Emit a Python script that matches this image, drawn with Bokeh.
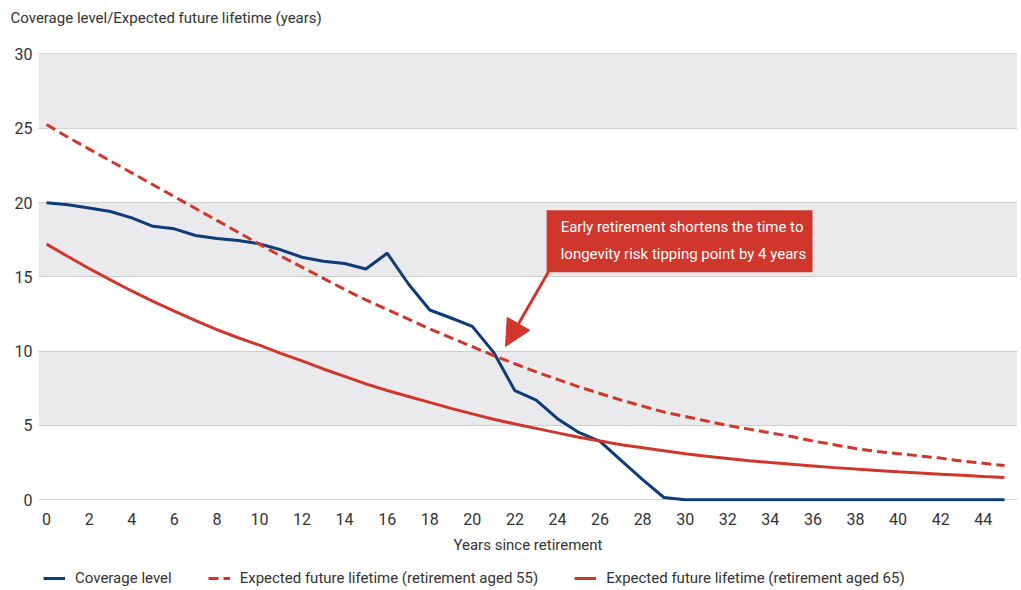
from bokeh.plotting import figure
from bokeh.layouts import column
from bokeh.models import Range1d, BoxAnnotation, Label, Arrow, NormalHead, Legend, LegendItem, FixedTicker, Title
from bokeh.embed import file_html
from bokeh.resources import INLINE

# ---------------- data ----------------
years = list(range(46))
coverage = [19.98, 19.85, 19.64, 19.4, 18.97, 18.4, 18.23, 17.78, 17.58, 17.44,
            17.22, 16.82, 16.32, 16.05, 15.9, 15.53, 16.59, 14.52, 12.77, 12.23,
            11.67, 9.92, 7.34, 6.71, 5.45, 4.53, 3.93, 2.63, 1.35, 0.15,
            0, 0, 0, 0, 0, 0, 0, 0, 0, 0, 0, 0, 0, 0, 0, 0]
life_55 = [25.25, 24.4, 23.6, 22.8, 22.0, 21.2, 20.4, 19.6, 18.8, 18.0,
           17.2, 16.4, 15.65, 14.9, 14.15, 13.45, 12.8, 12.15, 11.5, 10.9,
           10.3, 9.7, 9.15, 8.6, 8.1, 7.6, 7.15, 6.7, 6.3, 5.9,
           5.6, 5.3, 5.0, 4.75, 4.5, 4.25, 3.95, 3.7, 3.45, 3.25,
           3.1, 2.95, 2.8, 2.6, 2.45, 2.3]
life_65 = [17.2, 16.37, 15.56, 14.8, 14.05, 13.35, 12.7, 12.05, 11.45, 10.9,
           10.4, 9.85, 9.35, 8.8, 8.3, 7.8, 7.35, 6.95, 6.55, 6.15,
           5.78, 5.42, 5.1, 4.8, 4.5, 4.2, 3.95, 3.7, 3.5, 3.3,
           3.1, 2.93, 2.78, 2.63, 2.5, 2.38, 2.27, 2.16, 2.06, 1.97,
           1.88, 1.8, 1.72, 1.64, 1.56, 1.49]
x_ticks = list(range(0, 45, 2))
y_ticks = [0, 5, 10, 15, 20, 25, 30]
shaded_bands = [(5, 10), (15, 20), (25, 30)]

series_names = ["Coverage level",
                "Expected future lifetime (retirement aged 55)",
                "Expected future lifetime (retirement aged 65)"]
title_text = "Coverage level/Expected future lifetime (years)"
x_title = "Years since retirement"
note_text = "Early retirement shortens the time to\nlongevity risk tipping point by 4 years"

# ---------------- style ----------------
FONT = "Roboto"
TXT = "#333333"
NAVY = "#0E3B7A"
RED = "#D0372C"
BAND = "#EAEAEC"
W = 1017


def blank_fig(h, **kw):
    f = figure(width=W, height=h, x_range=Range1d(0, 979), y_range=Range1d(100, 100 + h),
               x_axis_location=None, y_axis_location=None, toolbar_location=None,
               output_backend="svg", min_border_left=38, min_border_right=0,
               min_border_bottom=0, **kw)
    f.outline_line_color = None
    f.grid.visible = False
    return f


# ---- title strip ----
top = blank_fig(30, min_border_top=26)
top.title.text = title_text
top.title.text_font = FONT
top.title.text_font_size = "15px"
top.title.text_font_style = "normal"
top.title.text_color = TXT
top.title.offset = -28
top.title.standoff = 0

# ---- main chart ----
p = figure(frame_width=979, frame_height=449, output_backend="svg", toolbar_location=None,
           x_range=Range1d(-0.38, 45.61), y_range=Range1d(-0.12, 30.1),
           min_border_left=38, min_border_right=0, min_border_top=22, min_border_bottom=56)
p.outline_line_color = None
p.background_fill_color = "white"

for lo, hi in shaded_bands:
    p.add_layout(BoxAnnotation(bottom=lo, top=hi, fill_color=BAND, fill_alpha=1.0,
                               line_color=None, level="image"))

p.xgrid.visible = False
p.ygrid.ticker = FixedTicker(ticks=y_ticks)
p.ygrid.grid_line_color = "#A8A8A8"
p.ygrid.grid_line_dash = "1 1"
p.ygrid.grid_line_width = 1

p.xaxis.ticker = FixedTicker(ticks=x_ticks)
p.yaxis.ticker = FixedTicker(ticks=y_ticks)
for ax in (p.xaxis[0], p.yaxis[0]):
    ax.axis_line_color = None
    ax.major_tick_line_color = None
    ax.minor_tick_line_color = None
    ax.major_tick_out = 0
    ax.major_tick_in = 0
    ax.major_label_text_font = FONT
    ax.major_label_text_font_size = "16px"
    ax.major_label_text_color = TXT
p.xaxis.major_label_standoff = 11
p.yaxis.major_label_standoff = 6
p.xaxis.axis_label = x_title
p.xaxis.axis_label_text_font = FONT
p.xaxis.axis_label_text_font_size = "15px"
p.xaxis.axis_label_text_font_style = "normal"
p.xaxis.axis_label_text_color = TXT
p.xaxis.axis_label_standoff = 8

p.line(years, coverage, line_color=NAVY, line_width=3)
p.line(years, life_55, line_color=RED, line_width=3, line_dash="10 5")
p.line(years, life_65, line_color=RED, line_width=3)

p.add_layout(Arrow(end=NormalHead(size=26, fill_color=RED, line_color=RED),
                   x_start=23.58, y_start=15.35, x_end=21.56, y_end=10.32,
                   line_color=RED, line_width=3))
p.add_layout(BoxAnnotation(left=23.49, right=35.98, bottom=15.31, top=19.49,
                           fill_color=RED, fill_alpha=1.0, line_color=None))
p.add_layout(Label(x=24.15, y=18.95, text=note_text, text_font=FONT,
                   text_font_size="15px", text_color="white",
                   text_baseline="top", text_align="left", text_line_height=1.5))

# ---- legend strip (its lines lie outside its visible range; only the legend shows) ----
leg = blank_fig(32, min_border_top=0)
g_cov = leg.line(years, coverage, line_color=NAVY, line_width=3)
g_55 = leg.line(years, life_55, line_color=RED, line_width=3, line_dash="10 5")
g_65 = leg.line(years, life_65, line_color=RED, line_width=3)
legend = Legend(items=[LegendItem(label=series_names[0], renderers=[g_cov]),
                       LegendItem(label=series_names[1], renderers=[g_55]),
                       LegendItem(label=series_names[2], renderers=[g_65])],
                orientation="horizontal", location=(5, 1),
                label_text_font=FONT, label_text_font_size="15px", label_text_color=TXT,
                glyph_width=22, glyph_height=20, label_standoff=10, spacing=36,
                padding=0, margin=0, border_line_color=None, background_fill_alpha=0)
leg.add_layout(legend)

layout = column(top, p, leg, spacing=0)
open("out.html", "w").write(file_html(layout, INLINE))
